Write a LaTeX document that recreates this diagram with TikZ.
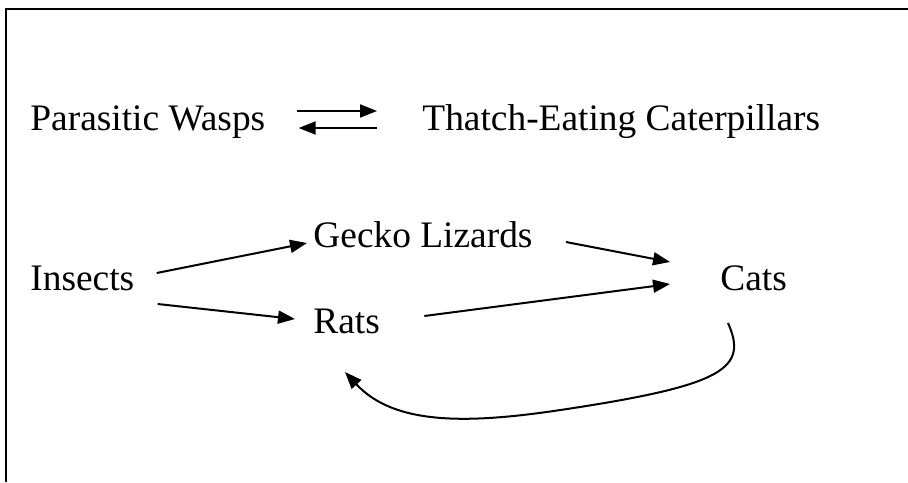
\documentclass[tikz,border=0pt]{standalone}
\usepackage{fontspec}
\setmainfont{Liberation Serif}
\usepackage{tikz}
\usetikzlibrary{arrows.meta}
\tikzset{
  spnode/.style={inner sep=0pt,anchor=base west,font=\fontsize{18.7}{22}\selectfont},
  feededge/.style={-{Triangle[length=8.5pt,width=6.5pt]},line width=1pt,black},
  framepen/.style={line width=1.1pt,black},
}

\begin{document}
\begin{tikzpicture}[x=0.5pt,y=-0.5pt]
  \useasboundingbox (0,0) rectangle (908,482);
  \draw[framepen] (6,482) -- (6,9) -- (908,9);
  \node[spnode] (nwasp) at (30,130) {Parasitic Wasps};
  \node[spnode] (ncater) at (422,130) {Thatch-Eating Caterpillars};
  \node[spnode] (ninsect) at (30,290) {Insects};
  \node[spnode] (ngecko) at (313,247) {Gecko Lizards};
  \node[spnode] (nrat) at (313,333) {Rats};
  \node[spnode] (ncat) at (720,290) {Cats};
  \draw[feededge] ([xshift=15.5pt,yshift=9.5pt]nwasp.base east) -- ([xshift=-22.5pt,yshift=9.5pt]ncater.base west);
  \draw[feededge] ([xshift=-22.5pt,yshift=1pt]ncater.base west) -- ([xshift=16.5pt,yshift=1pt]nwasp.base east);
  \draw[feededge] ([xshift=11pt,yshift=8.5pt]ninsect.base east) -- ([xshift=-3pt,yshift=2pt]ngecko.base west);
  \draw[feededge] ([xshift=11.5pt,yshift=-7pt]ninsect.base east) -- ([xshift=-9pt,yshift=7pt]nrat.base west);
  \draw[feededge] ([xshift=16.5pt,yshift=2.5pt]ngecko.base east) -- ([xshift=-25pt,yshift=14pt]ncat.base west);
  \draw[feededge] ([xshift=22pt,yshift=8.5pt]nrat.base east) -- ([xshift=-25pt,yshift=3pt]ncat.base west);
  \draw[feededge] ([xshift=4pt,yshift=-16.5pt]ncat.base west)
    .. controls (748,368) and (725,385) .. (567,409)
    .. controls (470,424) and (395,426) .. ([xshift=16pt,yshift=-19.5pt]nrat.base west);
\end{tikzpicture}
\end{document}
